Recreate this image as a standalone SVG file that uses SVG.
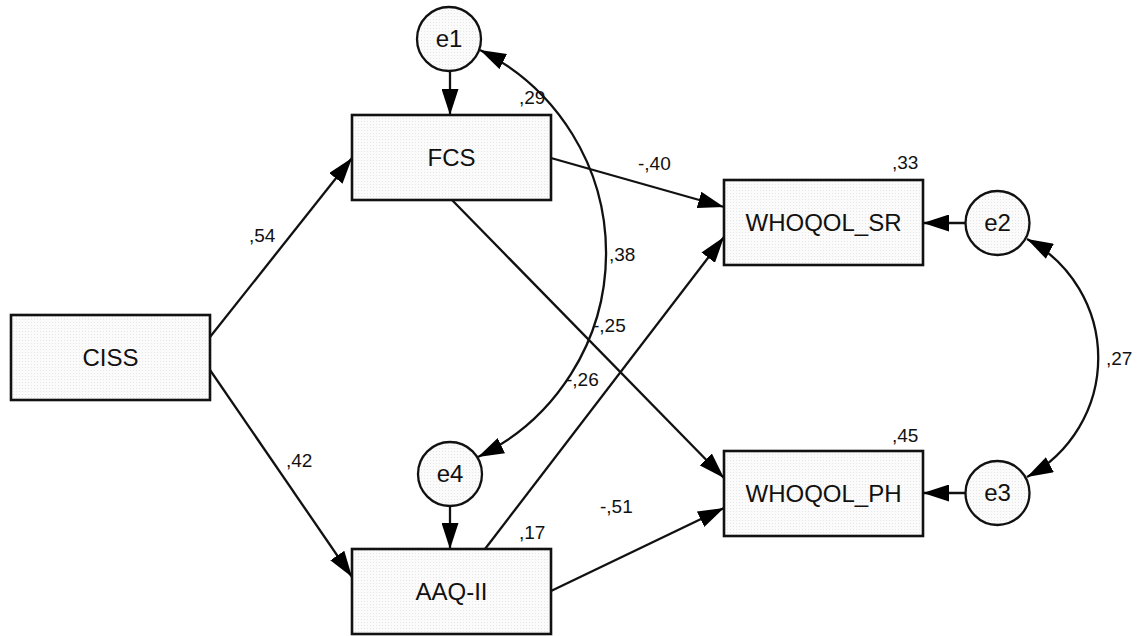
<svg xmlns="http://www.w3.org/2000/svg" width="1141" height="636" viewBox="0 0 1141 636">
  <style>
    .box { fill: url(#stipple); stroke: #111; stroke-width: 2.6; }
    .err { fill: url(#stipple); stroke: #111; stroke-width: 2.3; }
    .name { font-family: "Liberation Sans", Arial, sans-serif; font-size: 24px; fill: #111; text-anchor: middle; }
    .coef { font-family: "Liberation Sans", Arial, sans-serif; font-size: 19px; fill: #111; }
    .path { fill: none; stroke: #111; stroke-width: 2.3; marker-end: url(#head); }
    .cov { fill: none; stroke: #111; stroke-width: 2.3; marker-start: url(#head); marker-end: url(#head); }
  </style>
  <defs>
    <pattern id="stipple" width="3" height="3" patternUnits="userSpaceOnUse">
      <rect width="3" height="3" fill="#fbfbfb"/>
      <rect x="1" y="1" width="1" height="1" fill="#e6e6e6"/>
    </pattern>
    <marker id="head" markerUnits="userSpaceOnUse" markerWidth="26" markerHeight="17" refX="26" refY="8.5" orient="auto-start-reverse">
      <path d="M0,0 L26,8.5 L0,17 z" fill="#000"/>
    </marker>
  </defs>
  <rect width="1141" height="636" fill="#fff"/>

  <g id="connectors">
    <line class="path" x1="210" y1="337" x2="352" y2="158"/>
    <line class="path" x1="210" y1="370" x2="352" y2="577"/>
    <line class="path" x1="551" y1="158" x2="724" y2="207"/>
    <line class="path" x1="452" y1="200" x2="724" y2="478"/>
    <line class="path" x1="485" y1="549" x2="724" y2="237"/>
    <line class="path" x1="551" y1="591" x2="724" y2="508"/>
    <line class="path" x1="450" y1="71" x2="450" y2="115"/>
    <line class="path" x1="450" y1="506" x2="450" y2="549"/>
    <line class="path" x1="965.5" y1="223" x2="923" y2="223"/>
    <line class="path" x1="965.5" y1="493" x2="923" y2="493"/>
    <path class="cov" d="M480,50 A226.5,226.5 0 0 1 478,457"/>
    <path class="cov" d="M1027,239 A135,135 0 0 1 1027,477"/>
  </g>

  <g id="labels">
    <text class="coef" x="249" y="242">,54</text>
    <text class="coef" x="286" y="467">,42</text>
    <text class="coef" x="519" y="104">,29</text>
    <text class="coef" x="638" y="170">-,40</text>
    <text class="coef" x="892" y="169">,33</text>
    <text class="coef" x="609" y="261">,38</text>
    <text class="coef" x="593" y="332">-,25</text>
    <text class="coef" x="566" y="386">-,26</text>
    <text class="coef" x="1106" y="365">,27</text>
    <text class="coef" x="892" y="442">,45</text>
    <text class="coef" x="519" y="539">,17</text>
    <text class="coef" x="600" y="513">-,51</text>
  </g>

  <g id="CISS">
    <rect class="box" x="11" y="315" width="199" height="85"/>
    <text class="name" x="110.5" y="366">CISS</text>
  </g>
  <g id="FCS">
    <rect class="box" x="352" y="115" width="199" height="85"/>
    <text class="name" x="451.5" y="166">FCS</text>
  </g>
  <g id="AAQ-II">
    <rect class="box" x="352" y="549" width="199" height="85"/>
    <text class="name" x="451.5" y="600">AAQ-II</text>
  </g>
  <g id="WHOQOL_SR">
    <rect class="box" x="724" y="180" width="199" height="85"/>
    <text class="name" x="823.5" y="231">WHOQOL_SR</text>
  </g>
  <g id="WHOQOL_PH">
    <rect class="box" x="724" y="451" width="199" height="85"/>
    <text class="name" x="823.5" y="502">WHOQOL_PH</text>
  </g>
  <g id="e1">
    <circle class="err" cx="449" cy="39" r="32"/>
    <text class="name" x="449" y="47">e1</text>
  </g>
  <g id="e4">
    <circle class="err" cx="450" cy="474" r="32"/>
    <text class="name" x="450" y="482">e4</text>
  </g>
  <g id="e2">
    <circle class="err" cx="997.5" cy="223" r="32"/>
    <text class="name" x="997.5" y="231">e2</text>
  </g>
  <g id="e3">
    <circle class="err" cx="997.5" cy="493" r="32"/>
    <text class="name" x="997.5" y="501">e3</text>
  </g>
</svg>
